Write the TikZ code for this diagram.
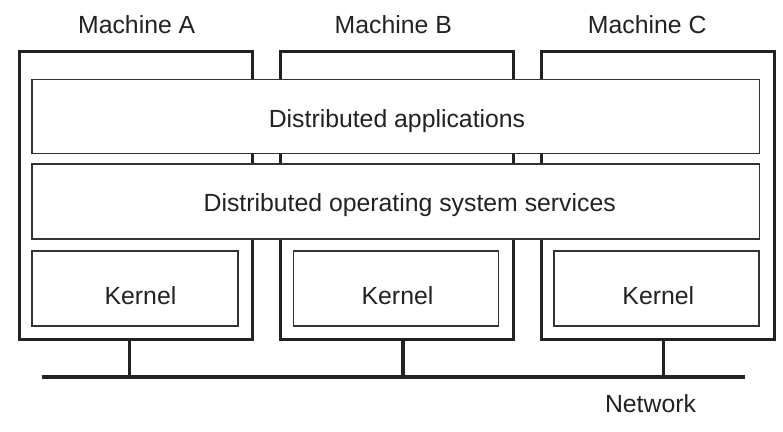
\documentclass[tikz,border=0pt]{standalone}
\usepackage{fontspec}
\setmainfont{Liberation Sans}
\definecolor{ink}{HTML}{222222}
\definecolor{inkb}{HTML}{333333}
\begin{document}
\begin{tikzpicture}[x=1pt,y=-1pt,
  machine/.style={draw=ink, line width=3pt, inner sep=0pt, outer sep=0pt, anchor=north west, minimum width=233pt, minimum height=288pt},
  layer/.style={draw=inkb, line width=1.6pt, fill=white, inner sep=0pt, outer sep=0pt, anchor=north west},
  lbl/.style={font=\fontsize{24.8}{28}\selectfont, text=ink, anchor=base, inner sep=0pt},
  wire/.style={draw=ink, line width=3.3pt},
  bus/.style={draw=ink, line width=4pt}]
\useasboundingbox (0,0) rectangle (783,431);
% machines
\node[machine] (machA) at (19.5,51.5) {};
\node[machine] (machB) at (280,51.5) {};
\node[machine] (machC) at (541,51.5) {};
\node[lbl] (labA) at (136.7,33.3) {Machine A};
\node[lbl] (labB) at (393.3,33.3) {Machine B};
\node[lbl] (labC) at (647.2,33.3) {Machine C};
% layers
\node[layer, minimum width=727.3pt, minimum height=74pt] (apps) at (32,79.3) {};
\node[layer, minimum width=727.3pt, minimum height=75pt] (os) at (32,164) {};
\node[lbl] (appsT) at (397,127.3) {Distributed applications};
\node[lbl] (osT) at (409.7,211.7) {Distributed operating system services};
% kernels
\node[layer, minimum width=205.7pt, minimum height=75.3pt] (kerA) at (32,250.7) {};
\node[layer, minimum width=205pt, minimum height=75.3pt] (kerB) at (293.3,250.7) {};
\node[layer, minimum width=205pt, minimum height=75.3pt] (kerC) at (554,250.7) {};
\node[lbl] (kerAT) at (140.5,304) {Kernel};
\node[lbl] (kerBT) at (397.5,304) {Kernel};
\node[lbl] (kerCT) at (658.3,304) {Kernel};
% network
\coordinate (netL) at (41.7,376.7);
\coordinate (netR) at (745,376.7);
\draw[bus] (netL) -- (netR);
\coordinate (tapA) at (129.3,376.7);
\coordinate (tapB) at (403,376.7);
\coordinate (tapC) at (663.3,376.7);
\draw[wire] (machA.south -| tapA) -- (tapA);
\draw[wire] (machB.south -| tapB) -- (tapB);
\draw[wire] (machC.south -| tapC) -- (tapC);
\node[lbl] (netT) at (650.5,412.7) {Network};
\end{tikzpicture}
\end{document}
